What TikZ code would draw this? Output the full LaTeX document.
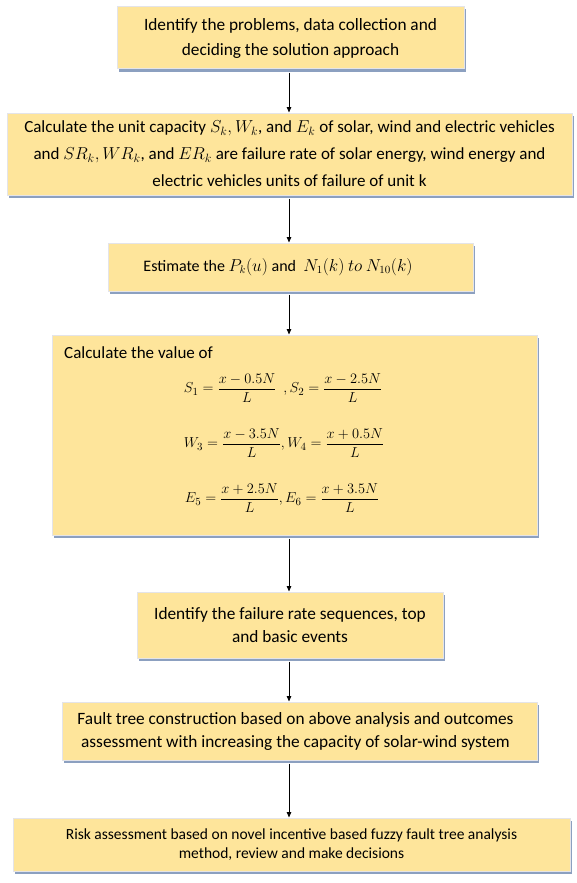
\documentclass[tikz,border=0pt]{standalone}
\usepackage{fontspec}
\setmainfont{Carlito}
\usepackage{amsmath}
\usetikzlibrary{arrows.meta,shadows}
\definecolor{boxfill}{RGB}{254,229,155}
\definecolor{shadowc}{RGB}{140,160,192}
\definecolor{boxedge}{RGB}{228,228,232}
\begin{document}
\begin{tikzpicture}[x=1pt,y=-1pt,
  flowbox/.style={draw=boxedge, line width=1pt, fill=boxfill, inner sep=0pt, align=center,
    drop shadow={shadow xshift=1.5pt, shadow yshift=-2.5pt, fill=shadowc, opacity=1}},
  lbl/.style={inner sep=0pt, align=center},
  arr/.style={-{Triangle[length=5.5pt,width=4.5pt]}, line width=0.8pt, black, shorten <=3pt}]
\fill[white] (0,0) rectangle (576,883);
\useasboundingbox (0,0) rectangle (576,883);
\coordinate (ax) at (289,0);

\node[flowbox, minimum width=347pt, minimum height=62pt,
  font=\fontsize{17.3}{25}\selectfont] (b1) at (290.5,38)
  {Identify the problems, data collection and\\deciding the solution approach};

\node[flowbox, minimum width=565pt, minimum height=82pt,
  font=\fontsize{17}{27}\selectfont] (b2) at (289.5,154)
  {Calculate the unit capacity $S_k,W_k$, and $E_k$ of solar, wind and electric vehicles\\
   and $SR_k,WR_k$, and $ER_k$ are failure rate of solar energy, wind energy and\\
   electric vehicles units of failure of unit k};

\node[flowbox, minimum width=365pt, minimum height=48pt] (b3) at (290.5,267) {};
\node[lbl, font=\fontsize{16}{20}\selectfont] (t3) at (278,267)
  {Estimate the $P_k(u)$ and \ $N_1(k)\ to\ N_{10}(k)$};

\node[flowbox, minimum width=485pt, minimum height=200pt] (b4) at (294.5,435) {};
\node[lbl, anchor=base west, font=\fontsize{17}{20}\selectfont] (t4) at (64,358) {Calculate the value of};
\node[lbl, font=\fontsize{15.3}{20}\selectfont] (e1) at (283,388)
  {$S_1=\dfrac{x-0.5N}{L}\ \ ,S_2=\dfrac{x-2.5N}{L}$};
\node[lbl, font=\fontsize{15.3}{20}\selectfont] (e2) at (284,443)
  {$W_3=\dfrac{x-3.5N}{L},W_4=\dfrac{x+0.5N}{L}$};
\node[lbl, font=\fontsize{15.3}{20}\selectfont] (e3) at (282,498)
  {$E_5=\dfrac{x+2.5N}{L},E_6=\dfrac{x+3.5N}{L}$};

\node[flowbox, minimum width=306pt, minimum height=66pt,
  font=\fontsize{17.3}{23}\selectfont] (b5) at (290,625)
  {Identify the failure rate sequences, top\\and basic events};

\node[flowbox, minimum width=475pt, minimum height=58pt] (b6) at (299.5,731) {};
\node[lbl, font=\fontsize{17.3}{23}\selectfont] (t6) at (295.5,731)
  {Fault tree construction based on above analysis and outcomes\\
   assessment with increasing the capacity of solar-wind system};

\node[flowbox, minimum width=557pt, minimum height=53pt,
  font=\fontsize{15.5}{19}\selectfont] (b7) at (291.5,844.5)
  {Risk assessment based on novel incentive based fuzzy fault tree analysis\\
   method, review and make decisions};

\draw[arr] (ax |- b1.south) -- (ax |- b2.north);
\draw[arr] (ax |- b2.south) -- (ax |- b3.north);
\draw[arr] (ax |- b3.south) -- (ax |- b4.north);
\draw[arr] (ax |- b4.south) -- (ax |- b5.north);
\draw[arr] (ax |- b5.south) -- (ax |- b6.north);
\draw[arr] (ax |- b6.south) -- (ax |- b7.north);
\end{tikzpicture}
\end{document}
